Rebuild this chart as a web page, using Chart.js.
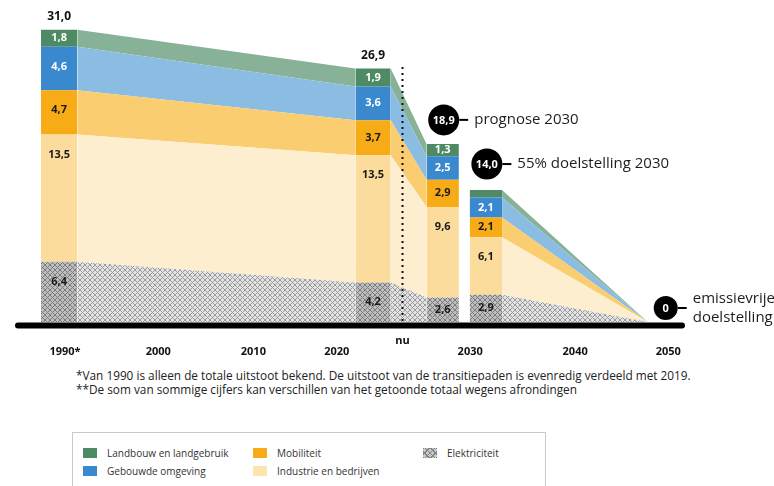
<!DOCTYPE html>
<html>
<head>
<meta charset="utf-8">
<script src="https://cdn.jsdelivr.net/npm/chart.js@4.4.0/dist/chart.umd.min.js"></script>
<style>
  body { margin: 0; width: 774px; height: 486px; overflow: hidden; background: #fff; position: relative; font-family: "Open Sans", sans-serif; }
  #wrap { position: absolute; left: 0; top: 0; width: 774px; height: 365px; }
  .note { position: absolute; left: 76px; font-size: 11.8px; color: #222; white-space: nowrap; }
  #legend { position: absolute; left: 72px; top: 432px; width: 474px; height: 80px; border: 1px solid #c9c9c9; box-sizing: border-box; }
  .item { position: absolute; font-size: 10px; color: #333; white-space: nowrap; line-height: 12px; }
  .sw { display: inline-block; width: 14px; height: 10px; vertical-align: -1px; margin-right: 10px; }
  .hatch { background-color: #c8c8c8;
    background-image: repeating-linear-gradient(45deg, #858585 0 1px, transparent 1px 4px),
                      repeating-linear-gradient(-45deg, #858585 0 1px, transparent 1px 4px); }
</style>
</head>
<body>
<div id="wrap"><canvas id="chart" width="774" height="365"></canvas></div>
<div class="note" style="top:367px">*Van 1990 is alleen de totale uitstoot bekend. De uitstoot van de transitiepaden is evenredig verdeeld met 2019.</div>
<div class="note" style="top:381px">**De som van sommige cijfers kan verschillen van het getoonde totaal wegens afrondingen</div>
<div id="legend">
  <div class="item" style="left:10px;top:14px"><span class="sw" style="background:#4e8b64"></span>Landbouw en landgebruik</div>
  <div class="item" style="left:10px;top:32px"><span class="sw" style="background:#3a89cf"></span>Gebouwde omgeving</div>
  <div class="item" style="left:180px;top:14px"><span class="sw" style="background:#f7ab17"></span>Mobiliteit</div>
  <div class="item" style="left:180px;top:32px"><span class="sw" style="background:#fde3ae"></span>Industrie en bedrijven</div>
  <div class="item" style="left:350px;top:14px"><span class="sw hatch"></span>Elektriciteit</div>
</div>
<script>
// Mton CO2-eq per sector: 1990, 2022, prognose 2030, doel 2030, 2050
const columnAt = [1990, 2022, 2029.1, 2033.5, 2050];
const elektriciteit = [6.4, 4.2, 2.6, 2.9, 0];
const industrie = [13.5, 13.5, 9.6, 6.1, 0];
const mobiliteit = [4.7, 3.7, 2.9, 2.1, 0];
const gebouwde = [4.6, 3.6, 2.5, 2.1, 0];
const landbouw = [1.8, 1.9, 1.3, 0.8, 0];

const tickLabels = ['1990*', '2000', '2010', '2020', '2030', '2040', '2050'];
const tickAt = [1990.6, 2000.1, 2009.8, 2018.3, 2031.9, 2042.6, 2052.1];
const nowAt = 2025;
const callouts = [null, null, ['prognose 2030'], ['55% doelstelling 2030'], ['emissievrije', 'doelstelling']];

// half width of each column, in years
const halfW = [1.85, 1.8, 1.65, 1.65];

function hatch(bg, fg) {
  const c = document.createElement('canvas');
  c.width = 5; c.height = 5;
  const g = c.getContext('2d');
  g.fillStyle = bg; g.fillRect(0, 0, 5, 5);
  g.strokeStyle = fg; g.lineWidth = 1;
  g.beginPath();
  g.moveTo(-1, -1); g.lineTo(6, 6);
  g.moveTo(6, -1); g.lineTo(-1, 6);
  g.stroke();
  return g.createPattern(c, 'repeat');
}

function points(vals) {
  const pts = [];
  for (let c = 0; c < 4; c++) {
    pts.push({x: columnAt[c] - halfW[c], y: vals[c]});
    pts.push({x: columnAt[c] + halfW[c], y: vals[c]});
  }
  pts.push({x: columnAt[4], y: vals[4]});
  return pts;
}

const sectors = [
  {name: 'Elektriciteit', vals: elektriciteit, dark: hatch('#bebebe', '#7c7c7c'), light: hatch('#e3e3e3', '#9c9c9c'), ink: '#1a1a1a'},
  {name: 'Industrie en bedrijven', vals: industrie, dark: '#fcdc9c', light: '#fdeed0', ink: '#1a1a1a'},
  {name: 'Mobiliteit', vals: mobiliteit, dark: '#f6ab17', light: '#f9cd70', ink: '#1a1a1a'},
  {name: 'Gebouwde omgeving', vals: gebouwde, dark: '#3a89cf', light: '#8bbde2', ink: '#fff'},
  {name: 'Landbouw en landgebruik', vals: landbouw, dark: '#4e8b64', light: '#87b298', ink: '#fff'}
];

const fmt = v => v.toFixed(1).replace('.', ',');

const datasets = sectors.map((s, i) => ({
  label: s.name,
  data: points(s.vals),
  fill: i === 0 ? 'origin' : '-1',
  backgroundColor: s.light,
  borderWidth: 0,
  pointRadius: 0,
  segment: {
    backgroundColor: ctx => {
      const k = ctx.p0DataIndex;
      if (k === 5) return 'rgba(0,0,0,0)';  // gap between prognose and doel
      return k % 2 === 0 ? s.dark : s.light;
    }
  }
}));

const decor = {
  id: 'decor',
  afterDatasetsDraw(chart) {
    const {ctx, chartArea: area, scales: {x, y}} = chart;
    ctx.save();

    // "nu" marker
    const nx = Math.round(x.getPixelForValue(nowAt)) + 0.5;
    ctx.strokeStyle = '#111';
    ctx.lineWidth = 2;
    ctx.setLineDash([2, 4]);
    ctx.beginPath();
    ctx.moveTo(nx, 67);
    ctx.lineTo(nx, area.bottom);
    ctx.stroke();
    ctx.setLineDash([]);

    // base line
    ctx.lineWidth = 6;
    ctx.lineCap = 'round';
    ctx.strokeStyle = '#000';
    ctx.beginPath();
    ctx.moveTo(area.left + 3, area.bottom + 3.5);
    ctx.lineTo(area.right - 3, area.bottom + 3.5);
    ctx.stroke();

    ctx.textAlign = 'center';
    ctx.textBaseline = 'middle';

    // values inside the columns
    for (let c = 0; c < 4; c++) {
      const cx = x.getPixelForValue(columnAt[c]);
      let cum = 0;
      sectors.forEach(s => {
        const v = s.vals[c];
        const top = y.getPixelForValue(cum + v);
        const bot = y.getPixelForValue(cum);
        cum += v;
        if (v < 1) return;
        const h = bot - top;
        ctx.fillStyle = s.ink;
        ctx.font = 'bold 11px "Open Sans"';
        ctx.fillText(fmt(v), cx, top + Math.min(h / 2, 20));
      });
    }

    // totals
    for (let c = 0; c < 5; c++) {
      const total = sectors.reduce((a, s) => a + s.vals[c], 0);
      const cx = x.getPixelForValue(columnAt[c]);
      const top = y.getPixelForValue(total);
      if (!callouts[c]) {
        ctx.fillStyle = '#111';
        ctx.font = 'bold 12px "Open Sans"';
        ctx.fillText(fmt(total), cx, top - 13);
        continue;
      }
      let bx, by, r;
      if (c === 4) { bx = cx + 18; by = top - 14; r = 12; }
      else { bx = cx + 1; by = top - (c === 2 ? 24 : 26); r = 15.5; }
      ctx.fillStyle = '#000';
      ctx.beginPath();
      ctx.arc(bx, by, r, 0, Math.PI * 2);
      ctx.fill();
      ctx.fillStyle = '#fff';
      ctx.font = 'bold 11px "Open Sans"';
      ctx.fillText(total === 0 ? '0' : fmt(total), bx, by + 0.5);
      ctx.strokeStyle = '#000';
      ctx.lineWidth = 2;
      ctx.lineCap = 'butt';
      ctx.beginPath();
      ctx.moveTo(bx + r, by);
      ctx.lineTo(bx + r + 9, by);
      ctx.stroke();
      ctx.fillStyle = '#1e1e1e';
      ctx.font = '15px "Open Sans"';
      ctx.textAlign = 'left';
      const lines = callouts[c];
      lines.forEach((t, i) => {
        ctx.fillText(t, bx + r + 15, by + (i - (lines.length - 1) / 2) * 19);
      });
      ctx.textAlign = 'center';
    }

    // time axis
    ctx.fillStyle = '#111';
    ctx.font = 'bold 11px "Open Sans"';
    tickLabels.forEach((t, i) => {
      ctx.fillText(t, x.getPixelForValue(tickAt[i]), area.bottom + 30);
    });
    ctx.fillText('nu', nx, area.bottom + 19);
    ctx.restore();
  }
};

new Chart(document.getElementById('chart'), {
  type: 'line',
  data: {datasets},
  options: {
    responsive: false,
    animation: false,
    layout: {padding: {left: 15, right: 89, top: 11, bottom: 43}},
    plugins: {legend: {display: false}, tooltip: {enabled: false}},
    elements: {line: {tension: 0}},
    scales: {
      x: {type: 'linear', min: 1985.5, max: 2053.8, display: false},
      y: {stacked: true, min: 0, max: 33, display: false}
    }
  },
  plugins: [decor]
});
</script>
</body>
</html>
